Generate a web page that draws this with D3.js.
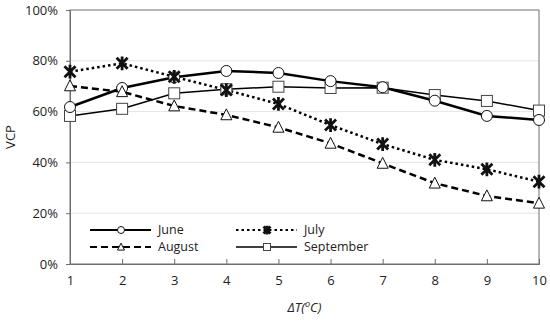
<!DOCTYPE html>
<html>
<head>
<meta charset="utf-8">
<script src="https://cdn.jsdelivr.net/npm/d3@7"></script>
<style>
  body { margin: 0; background: #fff; }
  text { font-family: "Open Sans", "Noto Sans", sans-serif; fill: #222; }
</style>
</head>
<body>
<svg id="chart" width="550" height="322"></svg>
<script>
const deltaT = [1, 2, 3, 4, 5, 6, 7, 8, 9, 10];
const june = [61.8, 69.3, 73.5, 76.0, 75.2, 72.0, 69.6, 64.3, 58.3, 56.7];
const july = [75.7, 79.0, 73.7, 68.5, 63.0, 54.7, 47.2, 41.0, 37.3, 32.4];
const august = [70.1, 67.8, 62.2, 58.7, 53.8, 47.5, 39.6, 31.8, 26.8, 23.9];
const september = [58.3, 61.1, 67.2, 68.8, 69.8, 69.3, 69.4, 66.5, 64.2, 60.4];
const yTicks = [0, 20, 40, 60, 80, 100];

const series = [
    { name: "June", values: june, marker: "circle", width: 2.5, dash: null, lx: 90, ly: 230 },
    { name: "July", values: july, marker: "star", width: 2.5, dash: "2.5,3", lx: 236, ly: 230 },
    { name: "August", values: august, marker: "triangle", width: 2.5, dash: "7,4", lx: 90, ly: 247 },
    { name: "September", values: september, marker: "square", width: 1.5, dash: null, lx: 236, ly: 247 }
];

const svg = d3.select("#chart");
const margin = { top: 10, right: 11, bottom: 58, left: 70 };
const width = 550 - margin.left - margin.right;
const height = 322 - margin.top - margin.bottom;

const x = d3.scaleLinear().domain([1, 10]).range([0, width]);
const y = d3.scaleLinear().domain([0, 100]).range([height, 0]);

const g = svg.append("g").attr("transform", `translate(${margin.left},${margin.top})`);

// gridlines
g.append("g").selectAll("line")
    .data(yTicks.filter(d => d > 0 && d < 100))
    .enter().append("line")
    .attr("x1", 0).attr("x2", width)
    .attr("y1", d => y(d)).attr("y2", d => y(d))
    .attr("stroke", "#e4e4e4").attr("stroke-width", 1);

// frame
g.append("rect")
    .attr("width", width).attr("height", height)
    .attr("fill", "none").attr("stroke", "#6e6e6e").attr("stroke-width", 1);

// y axis
const yAxis = g.append("g")
    .call(d3.axisLeft(y).tickValues(yTicks).tickSize(4).tickFormat(d => d + "%"));
yAxis.select(".domain").attr("stroke", "#6e6e6e");
yAxis.selectAll(".tick line").attr("stroke", "#6e6e6e");
yAxis.selectAll("text").attr("font-size", 13).attr("x", -12);

// x axis, ticks pointing inward
const xAxis = g.append("g").attr("transform", `translate(0,${height})`)
    .call(d3.axisBottom(x).tickValues(deltaT).tickSize(-5).tickPadding(12));
xAxis.select(".domain").attr("stroke", "#6e6e6e");
xAxis.selectAll(".tick line").attr("stroke", "#6e6e6e");
xAxis.selectAll("text").attr("font-size", 13);

// axis titles
const xt = svg.append("text")
    .attr("x", margin.left + width / 2).attr("y", 312)
    .attr("text-anchor", "middle").attr("font-size", 13).attr("font-style", "italic");
xt.append("tspan").text("ΔT(");
xt.append("tspan").text("o").attr("font-size", 9).attr("dy", -5);
xt.append("tspan").text("C)").attr("dy", 5);

svg.append("text")
    .attr("transform", `translate(15,${margin.top + height / 2}) rotate(-90)`)
    .attr("text-anchor", "middle").attr("font-size", 13).text("VCP");

function drawMarker(sel, type, s) {
    if (type === "circle") {
        sel.append("circle").attr("r", s).attr("fill", "#fff").attr("stroke", "#111").attr("stroke-width", 1);
    } else if (type === "square") {
        sel.append("rect").attr("x", -s).attr("y", -s).attr("width", 2 * s).attr("height", 2 * s)
            .attr("fill", "#fff").attr("stroke", "#444").attr("stroke-width", 1);
    } else if (type === "triangle") {
        const h = s * 1.1;
        sel.append("path").attr("d", `M0,${-h}L${s},${h * 0.8}L${-s},${h * 0.8}Z`)
            .attr("fill", "#fff").attr("stroke", "#111").attr("stroke-width", 1);
    } else if (type === "star") {
        const r = s * 1.25, a = r * 0.8;
        sel.append("path").attr("d", `M${-a},${-a}L${a},${a}M${-a},${a}L${a},${-a}M0,${-r}L0,${r}`)
            .attr("stroke", "#111").attr("stroke-width", 2.8).attr("fill", "none");
    }
}

const line = d3.line().x((d, i) => x(deltaT[i])).y(d => y(d));

// draw order: September, June, August, July
const order = ["September", "June", "August", "July"];
order.forEach(name => {
    const s = series.find(d => d.name === name);
    g.append("path").datum(s.values)
        .attr("d", line)
        .attr("fill", "none").attr("stroke", "#000")
        .attr("stroke-width", s.width)
        .attr("stroke-dasharray", s.dash);
});
order.forEach(name => {
    const s = series.find(d => d.name === name);
    g.append("g").selectAll("g")
        .data(s.values)
        .enter().append("g")
        .attr("transform", (d, i) => `translate(${x(deltaT[i])},${y(d)})`)
        .each(function () { drawMarker(d3.select(this), s.marker, 5.5); });
});

// legend
const legend = svg.append("g");
series.forEach(s => {
    const lg = legend.append("g").attr("transform", `translate(${s.lx},${s.ly})`);
    lg.append("line").attr("x1", 0).attr("x2", 61)
        .attr("stroke", "#000").attr("stroke-width", Math.min(s.width, 2))
        .attr("stroke-dasharray", s.dash);
    const m = lg.append("g").attr("transform", "translate(31,0)");
    drawMarker(m, s.marker, 3.5);
    lg.append("text").attr("x", 68).attr("dy", "0.35em").attr("font-size", 12.5).text(s.name);
});
</script>
</body>
</html>
